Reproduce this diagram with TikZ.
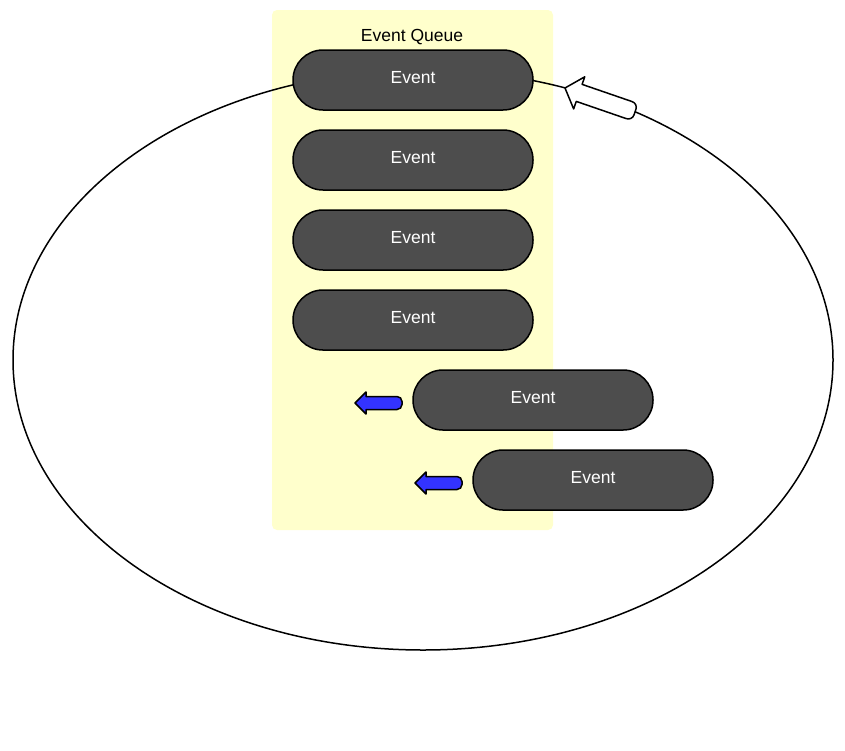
\documentclass[tikz,border=0pt]{standalone}
\usepackage{fontspec}
\setmainfont{Liberation Sans}
\definecolor{queuebg}{HTML}{FFFFCC}
\definecolor{evfill}{HTML}{4D4D4D}
\definecolor{arrblue}{HTML}{3333FF}
\tikzset{
  evt/.style={draw=black, line width=1.5pt, fill=evfill, rounded corners=29.9pt,
    minimum width=240pt, minimum height=60pt, text=white, font=\fontsize{17.5}{20}\selectfont,
    text height=12pt, text depth=5.4pt},
  bluearrow/.pic={
    \draw[fill=arrblue, line width=1.5pt, line join=round]
      (0,0) -- (11,-11) -- (11,-6.5) [rounded corners=5pt] -- (47,-6.5) -- (47,6.5) [sharp corners] -- (11,6.5) -- (11,11) -- cycle;
  },
  whitearrow/.pic={
    \draw[fill=white, line width=1.5pt, line join=round]
      (0,0) -- (15,-17) -- (15,-9) [rounded corners=6pt] -- (74,-9) -- (74,9) [sharp corners] -- (15,9) -- (15,17) -- cycle;
  }
}
\begin{document}
\begin{tikzpicture}[x=1pt,y=-1pt]
\useasboundingbox (0,0) rectangle (845,750);
\fill[white] (0,0) rectangle (845,750);
% queue background
\fill[queuebg, rounded corners=5pt] (272,10) rectangle (553,530);
\node[font=\fontsize{17.5}{20}\selectfont] (title) at (412,37) {Event Queue};
% loop
\draw[line width=1.5pt] (423,360) ellipse [x radius=410, y radius=290];
% events
\node[evt] (e1) at (413,80) {Event};
\node[evt] (e2) at (413,160) {Event};
\node[evt] (e3) at (413,240) {Event};
\node[evt] (e4) at (413,320) {Event};
\node[evt] (e5) at (533,400) {Event};
\node[evt] (e6) at (593,480) {Event};
% arrows
\pic at (355,403) {bluearrow};
\pic at (415,483) {bluearrow};
\pic[rotate=-19] at (565,88) {whitearrow};
\end{tikzpicture}
\end{document}
